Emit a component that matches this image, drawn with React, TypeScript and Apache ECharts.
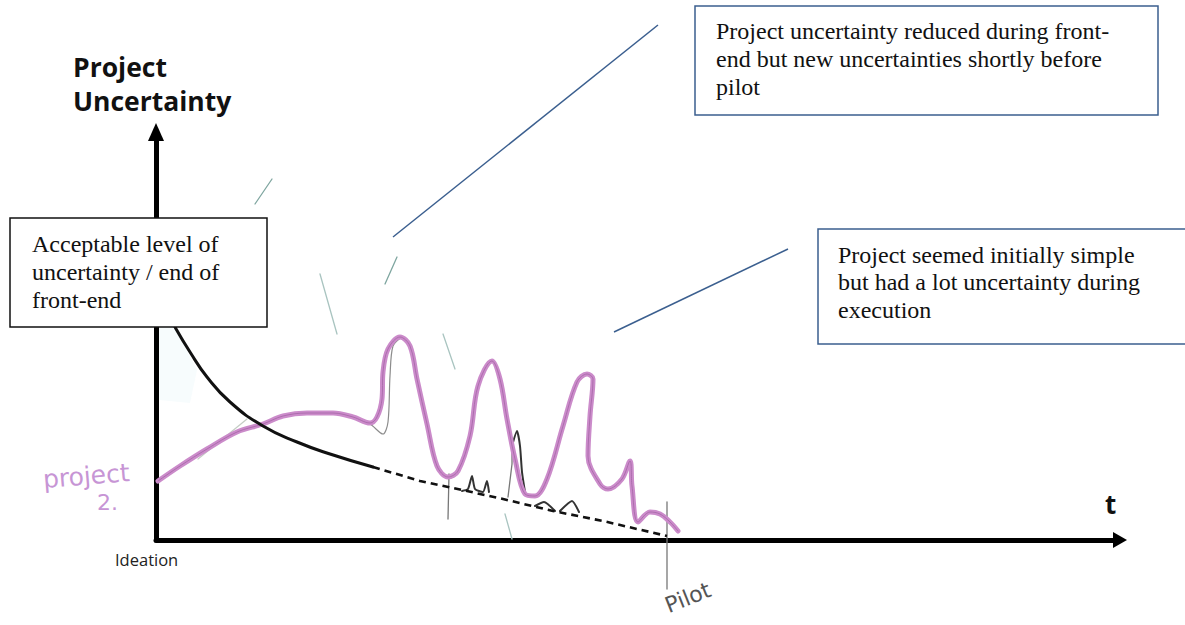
import React, { useEffect, useRef } from "react";
import * as echarts from "echarts";

type Pt = [number, number];

const project2Curve: Pt[] = [[2,59],[24,74],[51,91],[81,108],[107,116],[127,124],[151,127],[177,127],[197,123],[214,117],[221,123],[226,141],[227,168],[232,191],[244,203],[254,194],[261,161],[271,116],[281,74],[292,63],[302,69],[314,104],[322,154],[336,179],[344,161],[351,121],[359,81],[369,46],[379,44],[391,61],[407,114],[421,158],[431,166],[437,161],[434,124],[432,84],[444,56],[452,51],[466,61],[474,79],[476,54],[482,18],[494,28],[504,26],[514,18],[522,9]];
const acceptableSolid: Pt[] = [[4,241],[19,213],[34,188],[51,163],[74,138],[107,114],[141,98],[174,86],[217,73]];
const acceptableDashed: Pt[] = [[217,73],[264,59],[297,52],[347,41],[397,29],[447,19],[511,4]];
const pencilUnderCurve: Pt[] = [[197,123],[214,116],[227,106],[232,118],[234,164],[237,194],[246,203]];
const pencilSlant: Pt[] = [[42,81],[91,121]];
const smallPeaks: Pt[][] = [
  [[306,49],[312,51],[316,64],[319,51],[327,48],[331,59],[333,48]],
  [[356,94],[361,109],[364,94],[366,68],[369,48]],
  [[379,34],[388,38],[399,29]],
  [[404,29],[416,39],[423,28]],
];
const pencilTicks: Pt[][] = [
  [[293,66],[292,21]],
  [[352,43],[356,76],[356,94]],
  [[511,38],[511,-49]],
];
const strayMarks: Pt[][] = [
  [[116,361],[99,336]],
  [[241,283],[229,256]],
  [[164,266],[181,206]],
  [[287,206],[299,171]],
  [[349,26],[356,1]],
];
const inkSpeck: Pt[] = [[-124,26],[-124,14]];
const calloutLines: Pt[][] = [
  [[237,303],[502,515]],
  [[458,208],[632,291]],
];

const XMAX = 964;
const YMAX = 408;
const SERIF = "'Liberation Serif', serif";
const BLUE = "#3b5f8f";

function line(name: string, data: Pt[], color: string, width: number, extra: any = {}) {
  return {
    type: "line", name, data, symbol: "none", silent: true, clip: false, animation: false,
    lineStyle: { color, width, cap: "round", join: "round", ...(extra.lineStyle || {}) },
    smooth: extra.smooth ?? 0, z: extra.z ?? 3,
  };
}

function box(x: number, y: number, w: number, h: number, stroke: string) {
  return { type: "rect", z: 20, shape: { x, y, width: w, height: h },
    style: { fill: "#fff", stroke, lineWidth: 1.5 } };
}
function label(x: number, y: number, text: string, size: number, lh: number) {
  return { type: "text", z: 21, x, y,
    style: { text, fill: "#111", font: `${size}px ${SERIF}`, lineHeight: lh } };
}

export default function App() {
  const ref = useRef<HTMLDivElement>(null);
  useEffect(() => {
    const chart = echarts.init(ref.current!, undefined, { renderer: "svg" });
    const axisBase = {
      type: "value", min: 0, axisTick: { show: false }, axisLabel: { show: false }, splitLine: { show: false },
    };
    const axisStyle = { color: "#000", width: 5 };
    chart.setOption({
      animation: false,
      backgroundColor: "#fff",
      grid: { left: 156, top: 132, width: XMAX, height: YMAX },
      xAxis: { ...axisBase, max: XMAX, axisLine: { show: true, symbol: ["none", "triangle"], symbolSize: [16, 14], lineStyle: axisStyle } },
      yAxis: { ...axisBase, max: YMAX, axisLine: { show: true, symbol: ["none", "triangle"], symbolSize: [16, 18], lineStyle: axisStyle } },
      series: [
        line("Pencil slant", pencilSlant, "#c4cdc4", 1.2),
        ...strayMarks.map((d, i) => line(`Stray ${i}`, d, i === 0 || i === 1 ? "#7fa6a0" : "#a9c4c0", 1.3)),
        line("Ink speck", inkSpeck, "#222", 2),
        ...pencilTicks.map((d, i) => line(`Tick ${i}`, d, "#777", 1.3)),
        line("Pencil under curve", pencilUnderCurve, "#8c8c8c", 1.2, { smooth: 0.3 }),
        line("Acceptable level", acceptableSolid, "#111", 3, { smooth: 0.5, z: 5 }),
        line("Acceptable level (dashed)", acceptableDashed, "#111", 2.6, { lineStyle: { type: [7, 5], cap: "butt" }, z: 5 }),
        ...smallPeaks.map((d, i) => line(`Peak ${i}`, d, "#333", 2, { smooth: 0.2 })),
        line("Project 2", project2Curve, "#cb8bca", 5, { smooth: 0.35, z: 4 }),
        line("Project 2 core", project2Curve, "#a564a6", 0.8, { smooth: 0.35, z: 4 }),
        ...calloutLines.map((d, i) => line(`Callout ${i}`, d, BLUE, 1.5, { lineStyle: { cap: "butt" } })),
      ],
      graphic: [
        { type: "polygon", z: 1, shape: { points: [[159,328],[175,328],[197,370],[190,403],[159,400]] }, style: { fill: "#f7fcfd" } },
        { type: "text", z: 21, x: 73, y: 53, style: { text: "Project", fill: "#111", font: "bold 26.5px 'Open Sans', sans-serif" } },
        { type: "text", z: 21, x: 73, y: 87, style: { text: "Uncertainty", fill: "#111", font: "bold 26.5px 'Open Sans', sans-serif" } },
        { type: "text", z: 21, x: 1105, y: 491, style: { text: "t", fill: "#111", font: "bold 26px 'Open Sans', sans-serif" } },
        { type: "text", z: 21, x: 115, y: 551, style: { text: "Ideation", fill: "#222", font: "16.5px 'Open Sans', sans-serif" } },
        box(695, 6, 463, 109, BLUE),
        label(716, 17, "Project uncertainty reduced during front-\nend but new uncertainties shortly before\npilot", 24, 28),
        box(818, 229, 368, 115, BLUE),
        label(838, 241, "Project seemed initially simple\nbut had a lot uncertainty during\nexecution", 24, 27.5),
        box(10, 218, 257, 109, "#111"),
        label(32, 230, "Acceptable level of\nuncertainty / end of\nfront-end", 24, 28),
        { type: "text", z: 21, x: 42, y: 467, rotation: 0.08, style: { text: "project", fill: "#c795d5", font: "25px 'DejaVu Sans', sans-serif" } },
        { type: "text", z: 21, x: 97, y: 491, style: { text: "2.", fill: "#c795d5", font: "22px 'DejaVu Sans', sans-serif" } },
        { type: "text", z: 21, x: 662, y: 596, rotation: 0.38, style: { text: "Pilot", fill: "#555", font: "22px 'DejaVu Sans', sans-serif", align: "left", verticalAlign: "top" } },
      ],
    });
    return () => chart.dispose();
  }, []);
  return <div ref={ref} style={{ position: "absolute", left: 0, top: 0, width: 1185, height: 625 }} />;
}
